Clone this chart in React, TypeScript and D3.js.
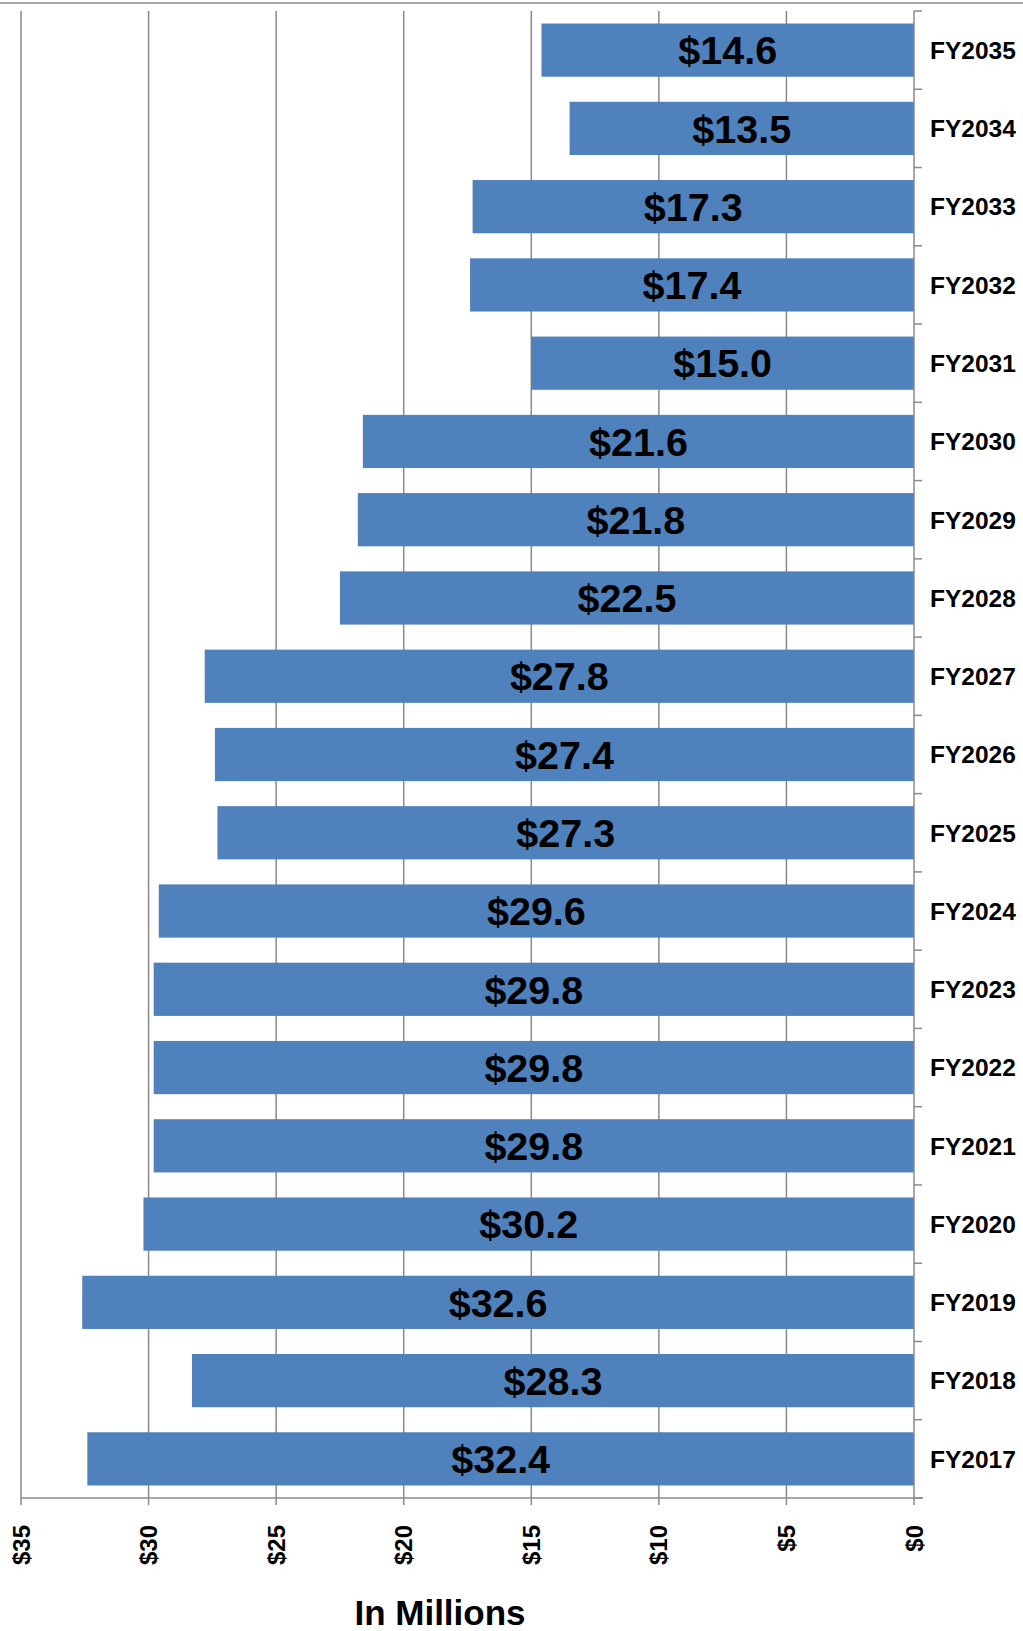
import { useEffect, useRef } from "react";
import * as d3 from "d3";

const YEARS = [
  "FY2035", "FY2034", "FY2033", "FY2032", "FY2031", "FY2030", "FY2029",
  "FY2028", "FY2027", "FY2026", "FY2025", "FY2024", "FY2023", "FY2022",
  "FY2021", "FY2020", "FY2019", "FY2018", "FY2017",
];
const AMOUNTS = [
  14.6, 13.5, 17.3, 17.4, 15.0, 21.6, 21.8, 22.5, 27.8, 27.4, 27.3, 29.6,
  29.8, 29.8, 29.8, 30.2, 32.6, 28.3, 32.4,
];
const X_TICKS = [35, 30, 25, 20, 15, 10, 5, 0];

const FONT = "'Liberation Sans', Arial, Helvetica, sans-serif";
const W = 1023;
const H = 1631;

export default function App() {
  const ref = useRef<SVGSVGElement | null>(null);

  useEffect(() => {
    document.body.style.margin = "0";
    if (!ref.current) return;
    const svg = d3.select(ref.current);
    svg.selectAll("*").remove();

    const left = 21, right = 914, top = 11, bottom = 1498;
    const grid = "#8a8a8a";

    // reversed axis: $35 on the left, $0 on the right
    const x = d3.scaleLinear().domain([35, 0]).range([left, right]);
    const y = d3.scaleBand().domain(YEARS).range([top, bottom])
      .paddingInner(0.32).paddingOuter(0.16);
    const yOuter = d3.scaleBand().domain(YEARS).range([top, bottom]);

    // chart border (top edge only is visible)
    svg.append("line")
      .attr("x1", 0).attr("x2", W).attr("y1", 3).attr("y2", 3)
      .attr("stroke", "#a6a6a6").attr("stroke-width", 2);

    // vertical gridlines
    svg.append("g").selectAll("line")
      .data(X_TICKS.filter(d => d !== 0))
      .join("line")
      .attr("x1", d => x(d)).attr("x2", d => x(d))
      .attr("y1", top).attr("y2", bottom)
      .attr("stroke", grid).attr("stroke-width", 1.5);

    // bars
    svg.append("g").selectAll("rect")
      .data(YEARS)
      .join("rect")
      .attr("x", (_, i) => x(AMOUNTS[i]))
      .attr("y", d => y(d) || 0)
      .attr("width", (_, i) => x(0) - x(AMOUNTS[i]))
      .attr("height", y.bandwidth())
      .attr("fill", "#4f81bd");

    // value labels centred in each bar
    svg.append("g").selectAll("text")
      .data(YEARS)
      .join("text")
      .attr("x", (_, i) => (x(AMOUNTS[i]) + x(0)) / 2)
      .attr("y", d => (y(d) || 0) + y.bandwidth() / 2)
      .attr("dy", "0.36em")
      .attr("text-anchor", "middle")
      .style("font-family", FONT).style("font-size", "39.5px").style("font-weight", 700)
      .style("fill", "#000")
      .text((_, i) => `$${AMOUNTS[i].toFixed(1)}`);

    // bottom axis
    const xAxis = svg.append("g");
    xAxis.append("line")
      .attr("x1", left).attr("x2", right + 9)
      .attr("y1", bottom).attr("y2", bottom)
      .attr("stroke", grid).attr("stroke-width", 1.5);
    xAxis.selectAll("line.tick")
      .data(X_TICKS)
      .join("line")
      .attr("class", "tick")
      .attr("x1", d => x(d)).attr("x2", d => x(d))
      .attr("y1", bottom).attr("y2", bottom + 7)
      .attr("stroke", grid).attr("stroke-width", 1.5);
    xAxis.selectAll("text")
      .data(X_TICKS)
      .join("text")
      .attr("transform", d => `translate(${x(d)},${bottom + 27}) rotate(-90)`)
      .attr("dy", "0.36em")
      .attr("text-anchor", "end")
      .style("font-family", FONT).style("font-size", "24px").style("font-weight", 700)
      .text(d => `$${d}`);

    // right category axis
    const yAxis = svg.append("g");
    yAxis.append("line")
      .attr("x1", right).attr("x2", right)
      .attr("y1", top).attr("y2", bottom)
      .attr("stroke", grid).attr("stroke-width", 1.5);
    const bounds = YEARS.map(d => yOuter(d) || 0).concat([bottom]);
    yAxis.selectAll("line.tick")
      .data(bounds)
      .join("line")
      .attr("class", "tick")
      .attr("x1", right).attr("x2", right + 8)
      .attr("y1", d => d).attr("y2", d => d)
      .attr("stroke", grid).attr("stroke-width", 1.5);
    yAxis.selectAll("text")
      .data(YEARS)
      .join("text")
      .attr("x", 930)
      .attr("y", d => (yOuter(d) || 0) + yOuter.bandwidth() / 2)
      .attr("dy", "0.36em")
      .style("font-family", FONT).style("font-size", "24.5px").style("font-weight", 700)
      .text(d => d);

    svg.append("text")
      .attr("x", 440).attr("y", 1625)
      .attr("text-anchor", "middle")
      .style("font-family", FONT).style("font-size", "35px").style("font-weight", 700)
      .text("In Millions");
  }, []);

  return <svg ref={ref} width={W} height={H} style={{ display: "block", background: "#fff" }} />;
}
